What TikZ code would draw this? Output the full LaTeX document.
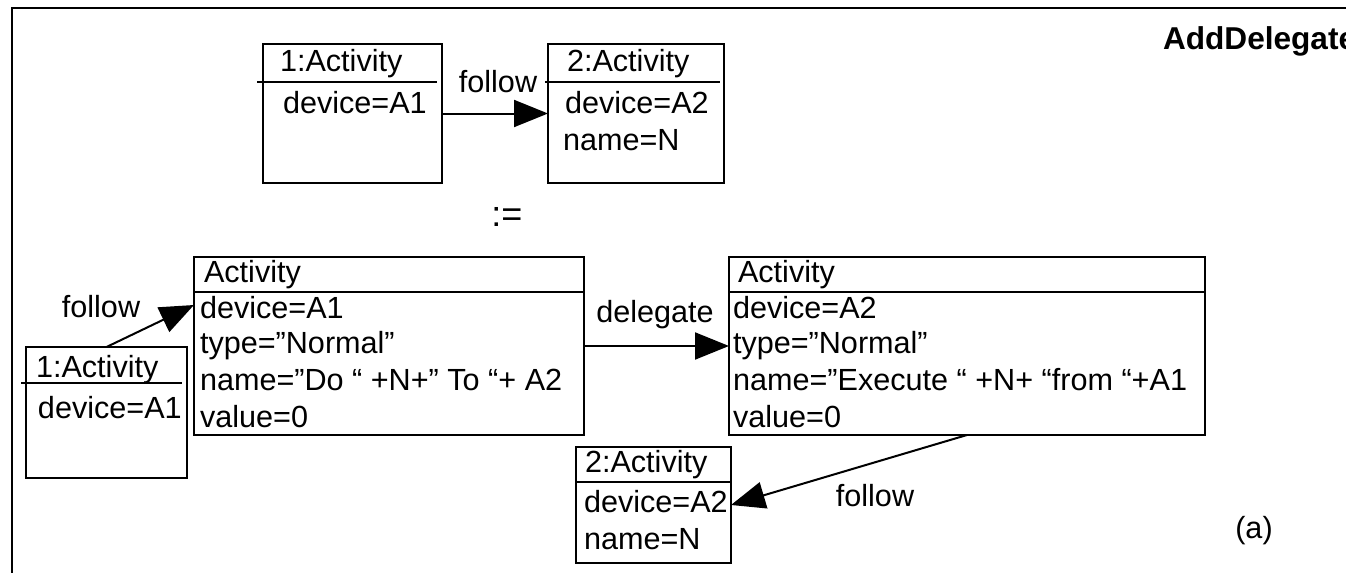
\documentclass[tikz,border=0pt]{standalone}
\usepackage{fontspec}
\setmainfont{Liberation Sans}
\usetikzlibrary{arrows.meta}
\begin{document}
\begin{tikzpicture}[x=0.5pt,y=-0.5pt,
  pbox/.style 2 args={draw,line width=1pt,anchor=north west,inner sep=0pt,outer sep=0pt,
    minimum width=#1*0.5pt,minimum height=#2*0.5pt},
  txt/.style={anchor=west,inner sep=0pt,outer sep=0pt,text height=0.72em,text depth=0pt,
    font=\fontsize{15.3pt}{18pt}\selectfont},
  lbl/.style={txt,anchor=center},
  rule/.style={line width=1pt},
  link/.style={line width=1pt,-{Triangle[length=17pt,width=13.5pt]}},
]
\useasboundingbox (0,0) rectangle (1346,573);

% outer frame (only top and left edges fall inside the page)
\draw[rule] (12,620) -- (12,8) -- (1400,8);
\node[txt,font=\fontsize{15.8pt}{18pt}\selectfont\bfseries] (title) at (1163,42) {AddDelegate};

% left-hand side of the rule
\node[pbox={179}{139}] (a1) at (263,44) {};
\draw[rule] (257,82) -- (437,82);
\node[txt] (a1n) at (280,64) {1:Activity};
\node[txt] (a1d) at (283,106) {device=A1};

\node[pbox={176}{139}] (a2) at (548,44) {};
\draw[rule] (545,82) -- (720,82);
\node[txt] (a2n) at (567,64) {2:Activity};
\node[txt] (a2d) at (565,106) {device=A2};
\node[txt] (a2m) at (563,143) {name=N};

\draw[link] (a1.east) -- (a2.west);
\node[lbl] (f1) at (498,85) {follow};

\node[lbl,font=\fontsize{18pt}{20pt}\selectfont] (assign) at (507,219) {:=};

% right-hand side of the rule
\node[pbox={390}{178}] (bl) at (194,257) {};
\draw[rule] (194,292) -- (584,292);
\node[txt] (bl0) at (204,275) {Activity};
\node[txt] (bl1) at (200,311) {device=A1};
\node[txt] (bl2) at (200,346) {type=”Normal”};
\node[txt] (bl3) at (200,383) {name=”Do “ +N+” To “+ A2};
\node[txt] (bl4) at (200,420) {value=0};

\node[pbox={476}{178}] (br) at (729,257) {};
\draw[rule] (729,292) -- (1205,292);
\node[txt] (br0) at (738,275) {Activity};
\node[txt] (br1) at (733,311) {device=A2};
\node[txt] (br2) at (733,346) {type=”Normal”};
\node[txt] (br3) at (733,383) {name=”Execute “ +N+ “from “+A1};
\node[txt] (br4) at (733,420) {value=0};

\node[pbox={161}{131}] (s1) at (26,347) {};
\draw[rule] (21,383) -- (182,383);
\node[txt] (s1n) at (36,370) {1:Activity};
\node[txt] (s1d) at (38,411) {device=A1};

\node[pbox={155}{116}] (s2) at (576,447) {};
\draw[rule] (576,482) -- (731,482);
\node[txt] (s2n) at (585,465) {2:Activity};
\node[txt] (s2d) at (584,505) {device=A2};
\node[txt] (s2m) at (584,542) {name=N};

\coordinate (blin) at (194,305);
\draw[link] (s1.north) -- (blin);
\node[lbl] (f2) at (101,310) {follow};

\draw[link] (bl.east) -- (br.west);
\node[lbl] (dl) at (655,315) {delegate};

\draw[link] (br.south) -- (s2.east);
\node[lbl] (f3) at (875,499) {follow};

\node[lbl] (tag) at (1254,531) {(a)};
\end{tikzpicture}
\end{document}
